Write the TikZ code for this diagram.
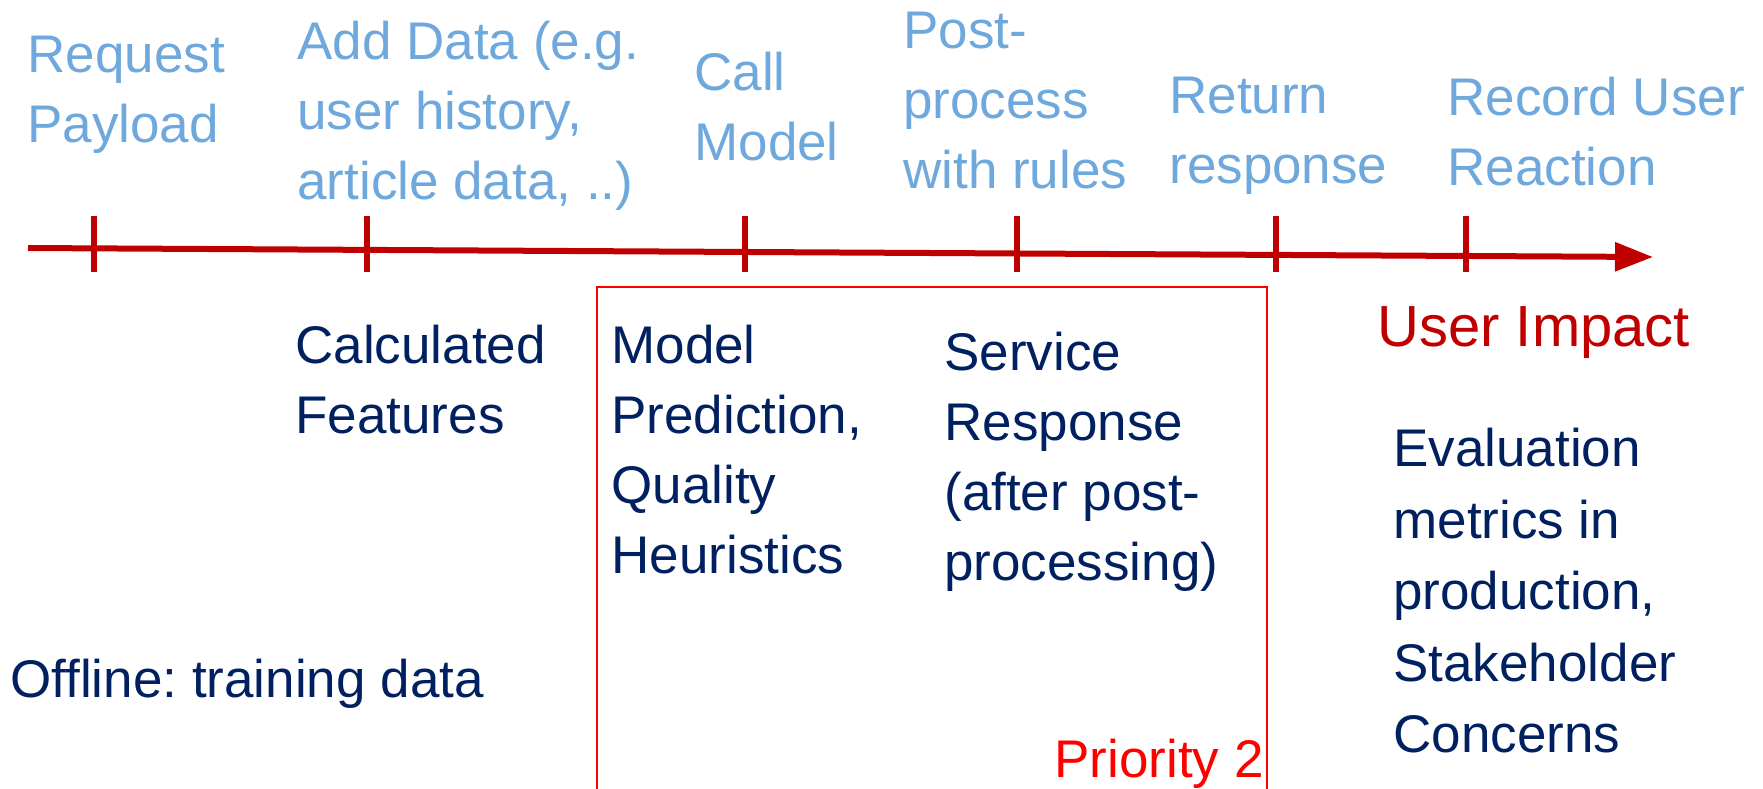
\documentclass[tikz,border=0pt]{standalone}
\usepackage{fontspec}
\setmainfont{Liberation Sans}
\usetikzlibrary{arrows.meta}
\definecolor{axisred}{HTML}{C00000}
\definecolor{stageblue}{HTML}{6FA8DC}
\definecolor{navy}{HTML}{002060}
\definecolor{priored}{HTML}{FF0000}
\frenchspacing

\begin{document}
\begin{tikzpicture}[x=0.5pt, y=-0.5pt]
  \tikzstyle{stage} = [anchor=north west, inner sep=0, align=left, text=stageblue, font=\fontsize{26.5}{35}\selectfont]
  \tikzstyle{result} = [stage, text=navy]
  \tikzstyle{timeline} = [axisred, line width=3pt, -{Triangle[length=19pt, width=14pt]}]
  \tikzstyle{tickline} = [axisred, line width=3pt]
  \tikzstyle{priority} = [priored, line width=0.8pt]

  \useasboundingbox (0,0) rectangle (1763,788);

  \coordinate (start) at (28,248);
  \coordinate (end) at (1653,257);
  \draw[timeline] (start) -- (end);
  \foreach \x in {94,367,745,1017,1276,1466}
    \draw[tickline] (\x,216) -- (\x,272);

  \node[stage] (request) at (27,36) {Request\\Payload};
  \node[stage] (adddata) at (297,21) {Add Data (e.g.\\user history,\\article data, ..)};
  \node[stage] (callmodel) at (694,52) {Call\\Model};
  \node[stage] (postproc) at (903,12) {Post-\\process\\with rules};
  \node[stage] (return) at (1169,77) {Return\\response};
  \node[stage] (record) at (1447,77) {Record User\\Reaction};

  \node[result] (features) at (295,325) {Calculated\\Features};
  \node[result] (prediction) at (611,325) {Model\\Prediction,\\Quality\\Heuristics};
  \node[result] (service) at (944,332) {Service\\Response\\(after post-\\processing)};
  \node[result] (offline) at (10,659) {Offline: training data};
  \node[result, font=\fontsize{26.5}{35.7}\selectfont] (evaluation) at (1393,428) {Evaluation\\metrics in\\production,\\Stakeholder\\Concerns};
  \node[stage, text=axisred, font=\fontsize{29}{35}\selectfont] (impact) at (1377,306) {User Impact};

  \draw[priority] (597,792) rectangle (1267,287);
  \node[stage, anchor=north east, text=priored] (prio) at (1264,739) {Priority 2};
\end{tikzpicture}
\end{document}
